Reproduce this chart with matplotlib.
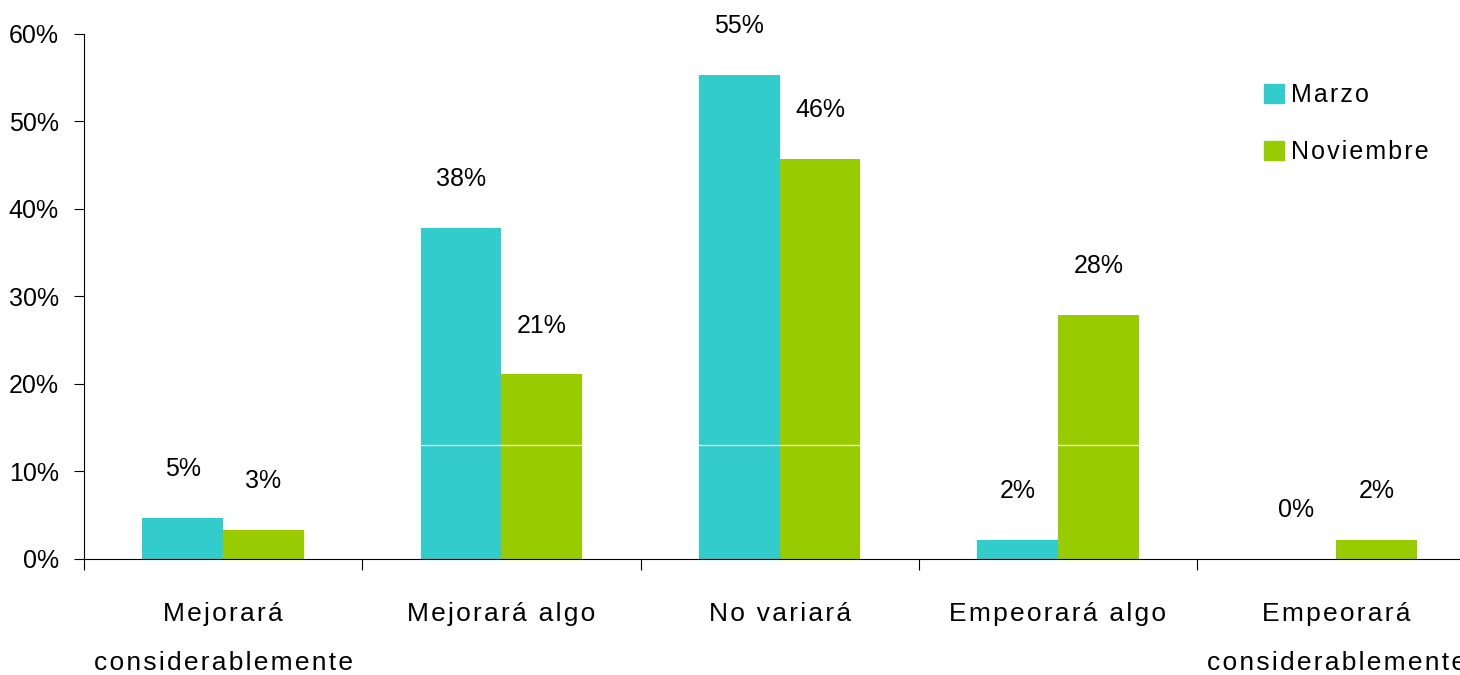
import matplotlib
matplotlib.use("Agg")
import matplotlib.pyplot as plt
from matplotlib.patches import Patch
from matplotlib.ticker import FixedLocator

# survey answers, percent of respondents
categories = ["Mejorará\nconsiderablemente", "Mejorará algo", "No variará",
              "Empeorará algo", "Empeorará\nconsiderablemente"]
marzo = [4.7, 37.8, 55.3, 2.2, 0.0]
noviembre = [3.3, 21.1, 45.7, 27.9, 2.2]
series_names = ["Marzo", "Noviembre"]
colors = ["#33CCCC", "#99CC00"]

plt.rcParams["font.family"] = ["Liberation Sans", "DejaVu Sans"]
fs = 18


def spaced(s):
    # loose tracking: hair space between letters of each line
    return "\n".join("\u200a".join(line) for line in s.split("\n"))


fig = plt.figure(figsize=(14.6, 6.75), dpi=100)
ax = fig.add_axes([0.0575, 0.172, 0.953, 0.778])

x = range(len(categories))
w = 0.29
b1 = ax.bar([i - w / 2 for i in x], marzo, w, color=colors[0], zorder=2)
b2 = ax.bar([i + w / 2 for i in x], noviembre, w, color=colors[1], zorder=2)

# thin white line running through the bars
ax.axhline(13, color="white", lw=0.9, zorder=2.1)

for bars, vals in ((b1, marzo), (b2, noviembre)):
    for rect, v in zip(bars, vals):
        ax.annotate(f"{v:.0f}%", (rect.get_x() + rect.get_width() / 2, v),
                    xytext=(0, 35), textcoords="offset points",
                    ha="center", va="center", fontsize=fs)

ax.set_xlim(-0.5, len(categories) - 0.5)
ax.set_ylim(0, 60)
ax.set_yticks(range(0, 61, 10))
ax.set_yticklabels([f"{t}%" for t in range(0, 61, 10)], fontsize=fs)
ax.tick_params(axis="y", length=7, width=0.8, pad=11)

ax.set_xticks(list(x))
ax.set_xticklabels([spaced(c) for c in categories], fontsize=19,
                   linespacing=2.3, va="top")
ax.tick_params(axis="x", which="major", length=0, pad=31)
ax.xaxis.set_minor_locator(FixedLocator([i - 0.5 for i in range(len(categories) + 1)]))
ax.tick_params(axis="x", which="minor", length=8, width=0.8, direction="out")

for s in ("top", "right"):
    ax.spines[s].set_visible(False)
for s in ("left", "bottom"):
    ax.spines[s].set_linewidth(0.8)

handles = [Patch(color=c) for c in colors]
fig.legend(handles, [spaced(n) for n in series_names], loc="upper left",
           bbox_to_anchor=(0.857, 0.895), frameon=False, fontsize=fs,
           handlelength=0.8, handleheight=0.8, handletextpad=0.3,
           labelspacing=1.3, borderpad=0)

fig.savefig("out.png", dpi=100)
